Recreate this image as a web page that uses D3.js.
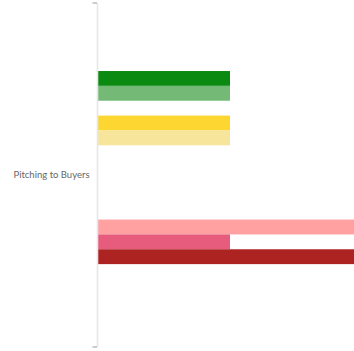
<!DOCTYPE html>
<html>
<head>
<meta charset="utf-8">
<script src="https://cdn.jsdelivr.net/npm/d3@7"></script>
<style>
  html, body { margin: 0; padding: 0; background: #fff; overflow: hidden; }
  svg { display: block; }
</style>
</head>
<body>
<svg id="chart" width="354" height="351"></svg>
<script>
// Category on the vertical axis
const categories = ["Pitching to Buyers"];

// One bar per series inside the category group (empty slots have value 0)
const seriesNames = [
  "Won", "Won (prior)", "—", "Open", "Open (prior)",
  "—", "—", "—", "—", "—",
  "Stalled", "Lost (prior)", "Lost", "—"
];
const seriesValues = [1, 1, 0, 1, 1, 0, 0, 0, 0, 0, 2, 1, 2, 0];
const seriesColors = [
  "#0b8a11", "#74ba76", "#ccc", "#fed632", "#f8e59c",
  "#ccc", "#ccc", "#ccc", "#ccc", "#ccc",
  "#ffa0a1", "#e75c7d", "#ac2321", "#ccc"
];

const svg = d3.select("#chart");
const W = 354, H = 351;
const plot = { left: 98, top: 3, bottom: 347 };

const x = d3.scaleLinear().domain([0, 2]).range([plot.left, plot.left + 264]);

const y0 = d3.scaleBand()
  .domain(categories)
  .range([plot.top, plot.bottom])
  .padding(0.2465);

const y1 = d3.scaleBand()
  .domain(d3.range(seriesNames.length))
  .range([0, y0.bandwidth()])
  .padding(0);

svg.append("rect").attr("width", W).attr("height", H).attr("fill", "#fff");

// Bars
const rows = categories.map(c => seriesValues.map((v, i) => ({ cat: c, i, v })));
svg.append("g")
  .selectAll("g")
  .data(rows)
  .join("g")
  .attr("transform", d => `translate(0,${y0(d[0].cat)})`)
  .selectAll("rect")
  .data(d => d.filter(b => b.v > 0))
  .join("rect")
  .attr("x", x(0))
  .attr("y", d => y1(d.i))
  .attr("width", d => x(d.v) - x(0))
  .attr("height", y1.bandwidth())
  .attr("fill", d => seriesColors[d.i]);

// Vertical category axis
const axisG = svg.append("g").attr("transform", `translate(${plot.left - 0.5},0)`);
axisG.append("line")
  .attr("x1", 0).attr("x2", 0)
  .attr("y1", plot.top).attr("y2", plot.bottom)
  .attr("stroke", "#e6e6e6").attr("stroke-width", 1.6);

// Tick marks at the category boundaries
const tickYs = [plot.top, plot.bottom];
axisG.selectAll("line.tick")
  .data(tickYs)
  .join("line")
  .attr("class", "tick")
  .attr("x1", -5).attr("x2", -0.5)
  .attr("y1", d => d).attr("y2", d => d)
  .attr("stroke", "#aaa").attr("stroke-width", 1.2);

// Category label
axisG.selectAll("text")
  .data(categories)
  .join("text")
  .attr("x", -8)
  .attr("y", d => y0(d) + y0.bandwidth() / 2)
  .attr("dy", "0.35em")
  .attr("text-anchor", "end")
  .attr("font-family", "Lato, 'Open Sans', sans-serif")
  .attr("font-size", 9.5)
  .attr("fill", "#666")
  .text(d => d);
</script>
</body>
</html>
